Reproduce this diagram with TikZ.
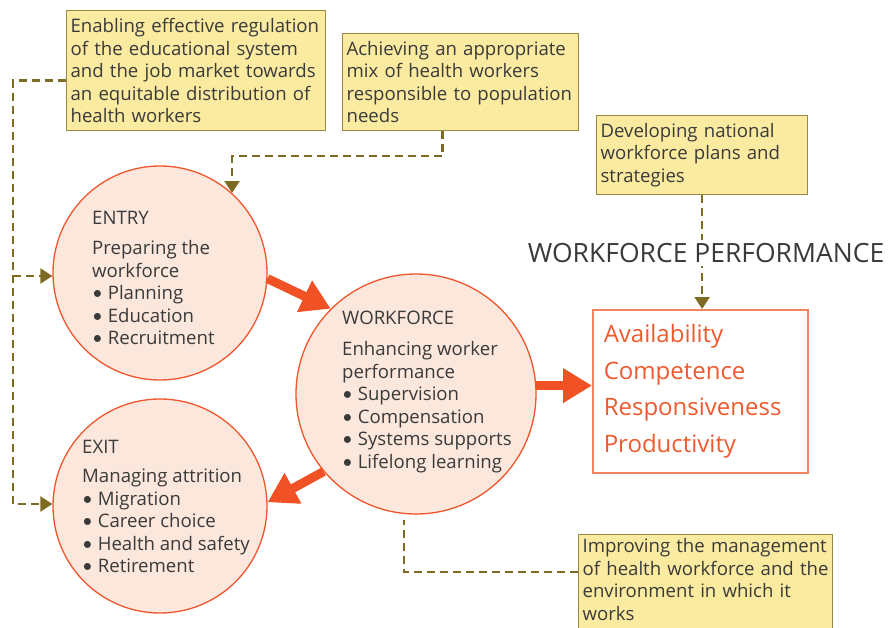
\documentclass[tikz,border=0pt]{standalone}
\usepackage{fontspec}
\setmainfont{Open Sans}
\newfontfamily\bulfont{Lato}
\usetikzlibrary{arrows.meta,positioning}
\definecolor{boxfill}{HTML}{FBEBA1}
\definecolor{boxline}{HTML}{9A8740}
\definecolor{dashcol}{HTML}{7D6B24}
\definecolor{circfill}{HTML}{FCE7DC}
\definecolor{circline}{HTML}{F0552B}
\definecolor{arrowcol}{HTML}{F05225}
\definecolor{perfcol}{HTML}{EE5A2E}
\definecolor{perfline}{HTML}{F28462}
\definecolor{txt}{HTML}{3A3A3A}
\newcommand{\bul}{{\bulfont\textbullet}\ }

\begin{document}
\begin{tikzpicture}[x=1pt,y=-1pt,
    note/.style={draw=boxline, fill=boxfill, line width=1.2pt, anchor=north west,
        align=left, inner xsep=4pt, inner ysep=2pt, text=txt,
        font=\fontsize{18.6}{22.5}\selectfont},
    stage/.style={circle, draw=circline, fill=circfill, line width=1.3pt,
        minimum size=#1, inner sep=0pt},
    stagetext/.style={anchor=north west, align=left, inner sep=0pt, text=txt,
        font=\fontsize{18.6}{22.5}\selectfont},
    dashline/.style={dashcol, line width=2.4pt, dash pattern=on 8pt off 5pt},
    dashtip/.style={-{Triangle[length=12pt,width=15pt]}},
    bigarrow/.style={arrowcol, line width=9pt, -{Triangle[length=29pt,width=33pt]}}]

    \useasboundingbox (0,0) rectangle (888,628);

    % the three stages
    \node[stage=214pt] (entry) at (160,273) {};
    \node[stage=240pt] (workforce) at (416,394) {};
    \node[stage=214pt] (exit) at (160,506) {};

    \node[stagetext] (entrylbl) at (92,211) {ENTRY\\[8pt]
        Preparing the\\ workforce\\ \bul Planning\\
        \bul Education\\ \bul Recruitment};
    \node[stagetext] (workforcelbl) at (342,311) {WORKFORCE\\[8.5pt]
        Enhancing worker\\ performance\\ \bul Supervision\\
        \bul Compensation\\ \bul Systems supports\\
        \bul Lifelong learning};
    \node[stagetext] (exitlbl) at (82,440) {EXIT\\[7pt]
        Managing attrition\\ \bul Migration\\
        \bul Career choice\\ \bul Health and safety\\
        \bul Retirement};

    % outcome box
    \node[draw=perfline, line width=1.5pt, anchor=north west, align=left,
        text width=193pt, inner xsep=11pt, minimum height=163pt, text=perfcol,
        font=\fontsize{24}{36.5}\selectfont] (perf) at (592,309)
        {Availability\\ Competence\\ Responsiveness\\ Productivity};

    % policy notes
    \node[note, text width=251pt, minimum height=120pt] (regul) at (66,10)
        {Enabling effective regulation\\ of the educational system\\
        and the job market towards\\ an equitable distribution of\\ health workers};
    \node[note, text width=228pt, minimum height=97pt] (mix) at (342,33)
        {Achieving an appropriate\\ mix of health workers\\
        responsible to population\\ needs};
    \node[note, text width=203pt, minimum height=79pt] (plans) at (596,115)
        {Developing national\\ workforce plans and\\ strategies};
    \node[note, text width=246pt, text depth=95pt, inner ysep=4pt] (manage) at (578,534)
        {Improving the management\\ of health workforce and the\\
        environment in which it\\ works};

    % dashed links
    \draw[dashline, dashtip] ([yshift=-10pt]regul.west) -| (13,504) -- (exit.west |- 0,504);
    \draw[dashline, dashtip] (13,276) -- (entry.west |- 0,276);
    \draw[dashline, dashtip] ([xshift=-18pt]mix.south) -- ++(0,25) -| (entry.48);
    \draw[dashline, dashtip] (plans.south) -- (plans.south |- perf.north);
    \coordinate (wfbot) at (404,520);
    \draw[dashline] ([yshift=-38pt]manage.north west) -| (wfbot);

    \node[fill=white, text=txt, font=\fontsize{26.5}{30}\selectfont] (title)
        at (706,253) {WORKFORCE PERFORMANCE};

    % flow arrows
    \draw[bigarrow] (entry.-3) -- (workforce.135);
    \draw[bigarrow] (workforce.4) -- (workforce.4 -| perf.west);
    \draw[bigarrow] (workforce.220) -- (exit.2);
\end{tikzpicture}
\end{document}
